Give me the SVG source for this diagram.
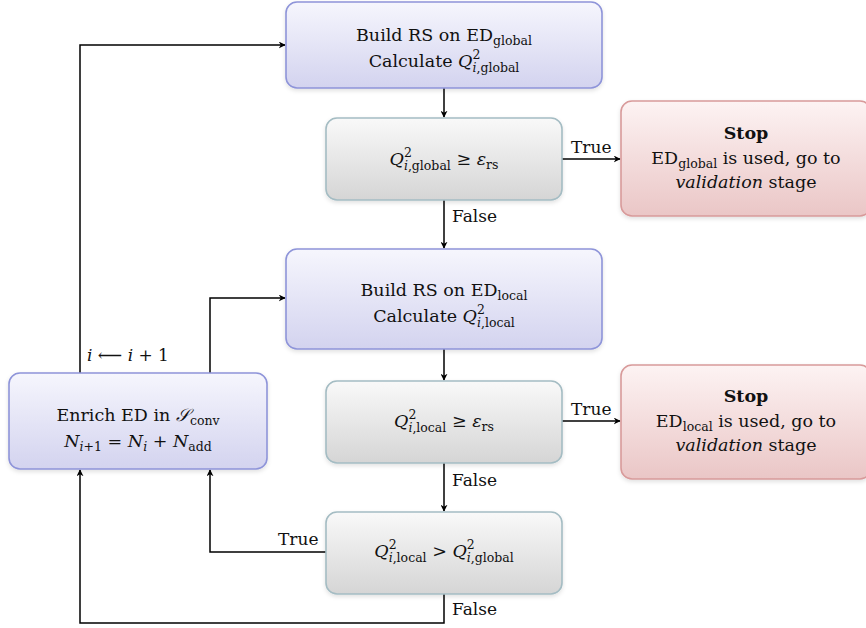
<svg xmlns="http://www.w3.org/2000/svg" width="866" height="628" viewBox="0 0 866 628">
<defs>
<linearGradient id="gBlue" x1="0" y1="0" x2="0" y2="1"><stop offset="0" stop-color="#f6f6fd"/><stop offset="1" stop-color="#d3d3ef"/></linearGradient>
<linearGradient id="gGray" x1="0" y1="0" x2="0" y2="1"><stop offset="0" stop-color="#f9f9f9"/><stop offset="1" stop-color="#d5d5d5"/></linearGradient>
<linearGradient id="gPink" x1="0" y1="0" x2="0" y2="1"><stop offset="0" stop-color="#fdf3f3"/><stop offset="1" stop-color="#eac6c6"/></linearGradient>
<filter id="sh" x="-10%" y="-10%" width="120%" height="130%"><feDropShadow dx="0" dy="2" stdDeviation="2" flood-color="#000" flood-opacity="0.12"/></filter>
<marker id="arr" viewBox="0 0 10 10" refX="9" refY="5" markerWidth="7" markerHeight="7" markerUnits="userSpaceOnUse" orient="auto"><path d="M0,0 L10,5 L0,10 L3,5 Z" fill="#000"/></marker>
</defs>
<style>
.blue{fill:url(#gBlue);stroke:#8e94d9;stroke-width:1.6;filter:url(#sh)}
.gray{fill:url(#gGray);stroke:#a4bcc3;stroke-width:1.6;filter:url(#sh)}
.pink{fill:url(#gPink);stroke:#d89a9a;stroke-width:1.6;filter:url(#sh)}
text{font-size:17.5px;fill:#111}
.lab{font-size:17px}
.c{text-anchor:middle}
.it{font-style:italic}
.s{font-size:12.5px}
.b{font-weight:bold}
.ln{fill:none;stroke:#000;stroke-width:1.5}
</style>
<rect width="866" height="628" fill="#fff"/>
<g font-family="DejaVu Serif, serif">
<g id="connectors">
<path class="ln" d="M444,88 V117" marker-end="url(#arr)"/>
<path class="ln" d="M562,159 H620" marker-end="url(#arr)"/>
<path class="ln" d="M444,200 V248" marker-end="url(#arr)"/>
<path class="ln" d="M444,349 V380" marker-end="url(#arr)"/>
<path class="ln" d="M562,421 H620" marker-end="url(#arr)"/>
<path class="ln" d="M444,463 V511" marker-end="url(#arr)"/>
<path class="ln" d="M326,552 H210 V470" marker-end="url(#arr)"/>
<path class="ln" d="M444,594 V623 H80 V470" marker-end="url(#arr)"/>
<path class="ln" d="M80,373 V45 H285" marker-end="url(#arr)"/>
<path class="ln" d="M210,373 V298 H285" marker-end="url(#arr)"/>
<text class="lab" x="571" y="153">True</text>
<text class="lab" x="452" y="222">False</text>
<text class="lab" x="571" y="415">True</text>
<text class="lab" x="452" y="486">False</text>
<text class="lab" x="278" y="545">True</text>
<text class="lab" x="452" y="615">False</text>
<text class="lab" x="87" y="361"><tspan class="it">i</tspan> ⟵ <tspan class="it">i</tspan> + 1</text>
</g>
<g id="build-global">
<rect class="blue" x="286" y="2" width="316" height="86" rx="11"/>
<text class="c" x="444" y="41">Build RS on ED<tspan class="s" dy="4">global</tspan></text>
<text class="c" x="444" y="67">Calculate <tspan class="it">Q</tspan><tspan class="s" dy="-8">2</tspan><tspan class="s" dx="-8" dy="13"><tspan class="it">i</tspan>,global</tspan></text>
</g>
<g id="check-global">
<rect class="gray" x="326" y="118" width="236" height="82" rx="11"/>
<text class="c" x="444" y="165"><tspan class="it">Q</tspan><tspan class="s" dy="-8">2</tspan><tspan class="s" dx="-8" dy="13"><tspan class="it">i</tspan>,global</tspan><tspan dy="-5"> ≥ </tspan><tspan class="it">ε</tspan><tspan class="s" dy="4">rs</tspan></text>
</g>
<g id="stop-global">
<rect class="pink" x="621" y="101" width="250" height="115" rx="11"/>
<text class="c b" x="746" y="139">Stop</text>
<text class="c" x="746" y="164">ED<tspan class="s" dy="4">global</tspan><tspan dy="-4"> is used, go to</tspan></text>
<text class="c" x="746" y="188"><tspan class="it">validation</tspan> stage</text>
</g>
<g id="build-local">
<rect class="blue" x="286" y="249" width="316" height="100" rx="11"/>
<text class="c" x="444" y="296">Build RS on ED<tspan class="s" dy="4">local</tspan></text>
<text class="c" x="444" y="322">Calculate <tspan class="it">Q</tspan><tspan class="s" dy="-8">2</tspan><tspan class="s" dx="-8" dy="13"><tspan class="it">i</tspan>,local</tspan></text>
</g>
<g id="check-local">
<rect class="gray" x="326" y="381" width="236" height="82" rx="11"/>
<text class="c" x="444" y="427"><tspan class="it">Q</tspan><tspan class="s" dy="-8">2</tspan><tspan class="s" dx="-8" dy="13"><tspan class="it">i</tspan>,local</tspan><tspan dy="-5"> ≥ </tspan><tspan class="it">ε</tspan><tspan class="s" dy="4">rs</tspan></text>
</g>
<g id="stop-local">
<rect class="pink" x="621" y="365" width="250" height="114" rx="11"/>
<text class="c b" x="746" y="402">Stop</text>
<text class="c" x="746" y="427">ED<tspan class="s" dy="4">local</tspan><tspan dy="-4"> is used, go to</tspan></text>
<text class="c" x="746" y="451"><tspan class="it">validation</tspan> stage</text>
</g>
<g id="compare">
<rect class="gray" x="326" y="512" width="236" height="82" rx="11"/>
<text class="c" x="444" y="557"><tspan class="it">Q</tspan><tspan class="s" dy="-8">2</tspan><tspan class="s" dx="-8" dy="13"><tspan class="it">i</tspan>,local</tspan><tspan dy="-5"> &gt; </tspan><tspan class="it">Q</tspan><tspan class="s" dy="-8">2</tspan><tspan class="s" dx="-8" dy="13"><tspan class="it">i</tspan>,global</tspan></text>
</g>
<g id="enrich">
<rect class="blue" x="9" y="373" width="258" height="96" rx="11"/>
<text class="c" x="138" y="421">Enrich ED in <tspan class="it">𝒮</tspan><tspan class="s" dy="4">conv</tspan></text>
<text class="c" x="138" y="447"><tspan class="it">N</tspan><tspan class="s" dy="4"><tspan class="it">i</tspan>+1</tspan><tspan dy="-4"> = </tspan><tspan class="it">N</tspan><tspan class="s it" dy="4">i</tspan><tspan dy="-4"> + </tspan><tspan class="it">N</tspan><tspan class="s" dy="4">add</tspan></text>
</g>
</g>
</svg>
